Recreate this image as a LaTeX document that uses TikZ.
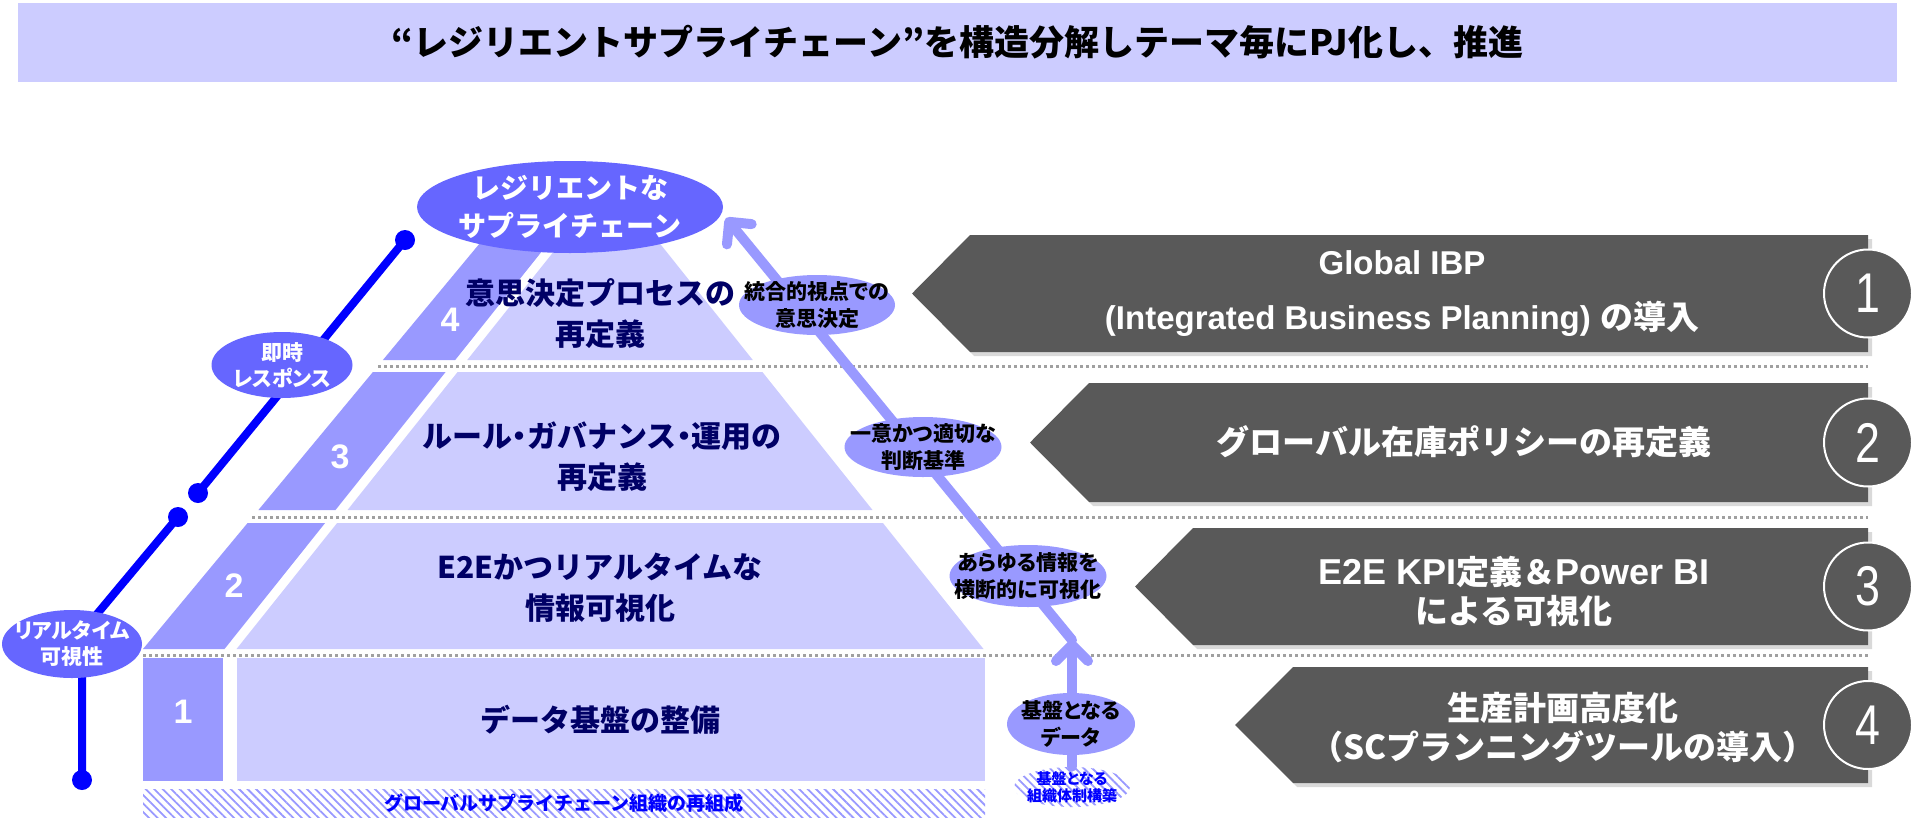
\documentclass[tikz,border=0pt]{standalone}
\usepackage{fontspec}
\setmainfont{Liberation Sans}
\newfontfamily\jp{Noto Sans CJK JP}
\newfontfamily\jpp{Noto Sans CJK JP}[RawFeature=+palt]
\usetikzlibrary{shapes.geometric,arrows.meta,patterns.meta,shadows}
\definecolor{lav}{HTML}{CCCCFF}
\definecolor{midlav}{HTML}{9999FF}
\definecolor{deeplav}{HTML}{6666FF}
\definecolor{navy}{HTML}{000066}
\definecolor{slab}{HTML}{595959}
\definecolor{pathblue}{HTML}{0000FF}
\definecolor{sepgray}{HTML}{A0A0A0}
\newcommand\jpsize[2]{\jp\bfseries\fontsize{#1}{#2}\selectfont}
\newcommand\jppsize[2]{\jpp\bfseries\fontsize{#1}{#2}\selectfont}
\newcommand\dotsep{\kern-.25em・\kern-.25em}
\begin{document}
\begin{tikzpicture}[x=0.5pt,y=-0.5pt,
  every node/.style={inner sep=0pt},
  every label/.style={inner sep=0pt,align=center},
  bubble/.style={ellipse,fill=deeplav},
  bubbletext/.style={text=white,font=\jppsize{10.5}{13}},
  tag/.style={ellipse,fill=midlav},
  tagtext/.style={text=black,font=\jppsize{10.5}{13.5}},
  layertext/.style={text=navy,align=center,font=\jpsize{15}{20.5}},
  layerno/.style={text=white,font=\bfseries\fontsize{17}{17}\selectfont},
  slabtext/.style={text=white,align=center,font=\bfseries\fontsize{16.5}{19.5}\selectfont},
  badge/.style={circle,fill=slab,draw=white,line width=1pt,minimum size=44pt,text=white,font=\fontsize{28}{28}\selectfont},
  sep/.style={sepgray,line width=1.5pt,dash pattern=on 1.5pt off 1.5pt},
  bluepath/.style={pathblue,line width=4pt},
  flow/.style={midlav,line width=5pt,line cap=round,line join=round},
  hatch/.style={pattern={Lines[angle=-45,distance=3pt,line width=0.9pt]},pattern color=midlav}
]
\useasboundingbox (0,0) rectangle (1920,830);
\node[fill=lav,minimum width=939.5pt,minimum height=39.5pt,font=\jpsize{17.5}{20}] (title) at (957.5,42.5) {“レジリエントサプライチェーン”を構造分解しテーマ毎にPJ化し、推進};

\fill[lav] (594.8,200) -- (625.2,200) -- (752.8,360) -- (467.2,360) -- cycle;
\fill[midlav] (515.7,200) -- (582.8,200) -- (455.2,360) -- (382.9,360) -- cycle;
\fill[lav] (457.6,372) -- (762.4,372) -- (872.5,510) -- (347.5,510) -- cycle;
\fill[midlav] (372.9,372) -- (445.6,372) -- (335.5,510) -- (258.4,510) -- cycle;
\fill[lav] (337.1,523) -- (882.9,523) -- (983.5,649) -- (236.5,649) -- cycle;
\fill[midlav] (247.6,523) -- (325.1,523) -- (224.5,649) -- (143,649) -- cycle;
\fill[lav] (237,658) rectangle (985,781);
\fill[midlav] (143,658) rectangle (223,781);

\draw[sep] (378,366) -- (1868,366);
\draw[sep] (252,517) -- (1868,517);
\draw[sep] (143,655) -- (1868,655);

\node[layertext] (lay4) at (600,314) {意思決定プロセスの\\再定義};
\node[layertext] (lay3) at (602,457) {ルール\dotsep ガバナンス\dotsep 運用の\\再定義};
\node[layertext] (lay2) at (600,588) {E2Eかつリアルタイムな\\情報可視化};
\node[layertext] (lay1) at (600,720) {データ基盤の整備};
\node[layerno] (no4) at (450,320) {4};
\node[layerno] (no3) at (340,457) {3};
\node[layerno] (no2) at (234,586) {2};
\node[layerno] (no1) at (183,712) {1};
\node[hatch,minimum width=421pt,minimum height=14pt,text=pathblue,font=\jpsize{9.5}{11}] (org) at (564,803) {グローバルサプライチェーン組織の再組成};

\coordinate (rt0) at (82,780);
\coordinate (rt1) at (82,632);
\coordinate (rt2) at (178,517);
\coordinate (im0) at (198,493);
\coordinate (im1) at (405,240);
\draw[bluepath] (rt0) -- (rt1) -- (rt2);
\draw[bluepath] (im0) -- (im1);
\foreach \p in {rt0,rt2,im0,im1} \fill[pathblue] (\p) circle[radius=10];
\node[bubble,minimum width=70pt,minimum height=34pt,label={[bubbletext]center:リアルタイム\\可視性}] (realtime) at (72,644) {};
\node[bubble,minimum width=70.5pt,minimum height=33pt,label={[bubbletext]center:即時\\レスポンス}] (instant) at (282,365) {};

\node[ellipse,hatch,minimum width=58pt,minimum height=20pt,label={[text=pathblue,font=\jppsize{7.5}{8.5}]center:基盤となる\\組織体制構築}] (base) at (1072,787) {};
\coordinate (vtip) at (1072,640);
\coordinate (gtip) at (726,218);
\draw[flow,-{Straight Barb[length=8pt,width=16pt,round]}] (base.north) -- (vtip);
\draw[flow,-{Straight Barb[length=8pt,width=16pt,round]}] (vtip) -- (gtip);

\node[ellipse,fill=deeplav,minimum width=153pt,minimum height=46pt,label={[text=white,font=\jpsize{14}{19}]center:レジリエントな\\サプライチェーン}] (goal) at (570,207) {};
\node[tag,minimum width=78pt,minimum height=30pt,label={[tagtext]center:統合的視点での\\意思決定}] (view) at (817,305) {};
\node[tag,minimum width=78.5pt,minimum height=30pt,label={[tagtext]center:一意かつ適切な\\判断基準}] (rule) at (923,447) {};
\node[tag,minimum width=78.5pt,minimum height=31pt,label={[tagtext]center:あらゆる情報を\\横断的に可視化}] (info) at (1028,576) {};
\node[tag,minimum width=64pt,minimum height=31pt,label={[tagtext]center:基盤となる\\データ}] (data) at (1071,724) {};

\foreach \n/\tx/\cx/\yt/\yb in {1/912/970/235/352,2/1030/1089/383/502,3/1135/1193/528/645,4/1235/1293/667/783}{
  \fill[slab,drop shadow={shadow xshift=2pt,shadow yshift=-2pt,opacity=0.3}] (\tx,{(\yt+\yb)/2}) -- (\cx,\yt) -- (1868,\yt) -- (1868,\yb) -- (\cx,\yb) -- cycle;
  \node[badge] (badge\n) at (1868,{(\yt+\yb)/2}) {\scalebox{0.8}[1]{\n}};
}
\node[slabtext] (plan1) at (1402,294) {Global IBP\\[8pt](Integrated Business Planning) {\jp の導入}};
\node[slabtext,font=\jpsize{16.5}{19.5}] (plan2) at (1464,442) {グローバル在庫ポリシーの再定義};
\node[slabtext] (plan3) at (1514,591) {{\fontsize{18}{19.5}\selectfont E2E KPI}{\jp 定義＆}{\fontsize{18}{19.5}\selectfont Power BI}\\{\jp による可視化}};
\node[slabtext,font=\jpsize{16.5}{19.5}] (plan4) at (1563,728) {生産計画高度化\\（SCプランニングツールの導入）};
\end{tikzpicture}
\end{document}
